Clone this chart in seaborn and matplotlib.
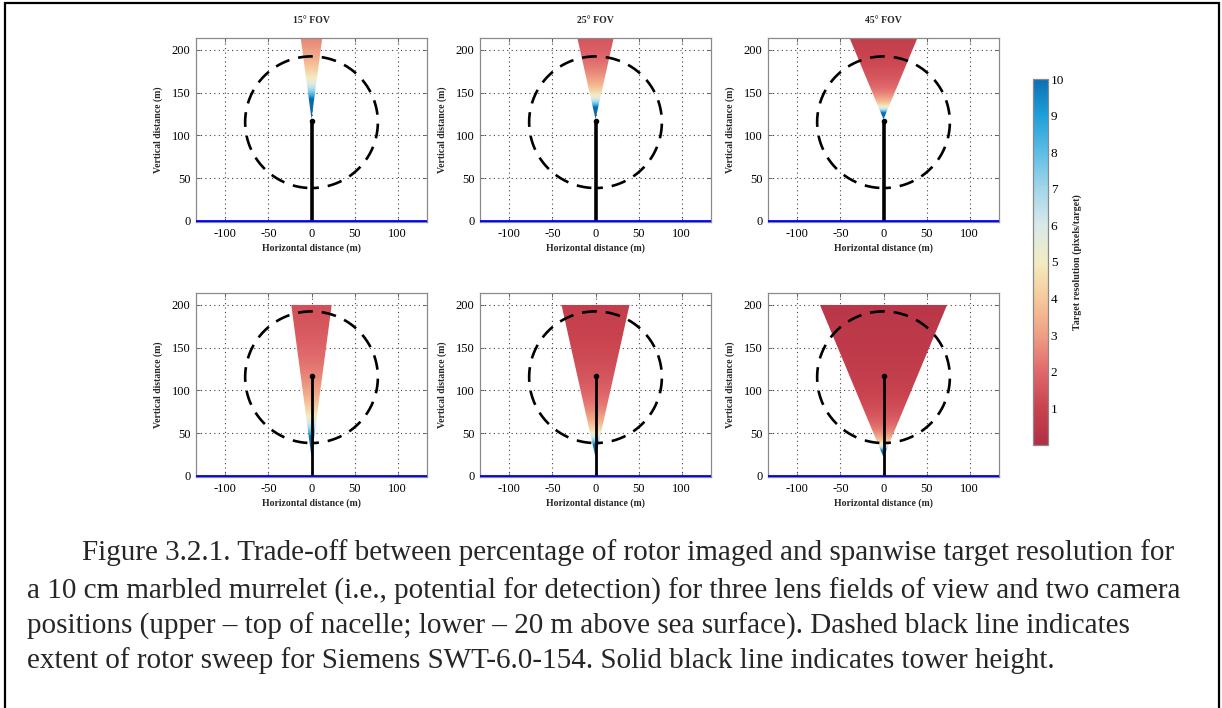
import numpy as np
import matplotlib
matplotlib.use("Agg")
import matplotlib.pyplot as plt
import seaborn as sns
from matplotlib.patches import Polygon, Rectangle

# ---------------- data ----------------
fov_deg = [15, 25, 45]                       # lens fields of view
fov_titles = ["15\u00b0 FOV", "25\u00b0 FOV", "45\u00b0 FOV"]
camera_height = [119, 22]                    # upper (top of nacelle), lower (~20 m above sea)
view_top = [219, 200]                        # upper edge of imaged area (m)
n_pixels = 640                               # sensor pixels across the field of view
target_size = 0.1                            # 10 cm marbled murrelet (m)
hub_height = 115.5
rotor_radius = 77.0
tower_height = 117.0
sea_level = 0.0
x_ticks = [-100, -50, 0, 50, 100]
y_ticks = [0, 50, 100, 150, 200]
cbar_ticks = [1, 2, 3, 4, 5, 6, 7, 8, 9, 10]
caption_lines = [
    "Figure 3.2.1. Trade-off between percentage of rotor imaged and spanwise target resolution for",
    "a 10 cm marbled murrelet (i.e., potential for detection) for three lens fields of view and two camera",
    "positions (upper \u2013 top of nacelle; lower \u2013 20 m above sea surface). Dashed black line indicates",
    "extent of rotor sweep for Siemens SWT-6.0-154. Solid black line indicates tower height.",
]

# ---------------- style ----------------
sns.set_theme(style="white")
plt.rcParams["font.family"] = ["Liberation Serif", "DejaVu Serif"]
plt.rcParams["axes.unicode_minus"] = False

cmap_stops = ["#b02f45", "#c9434f", "#e0686b", "#ef9f84", "#f6c99c", "#f3ecc2",
              "#d8e9ea", "#a4d6ea", "#5dbde5", "#1fa0da", "#0b70b4"]
cmap = sns.blend_palette(cmap_stops, as_cmap=True)
cmap.set_over("#0b6aad")

W, H = 1222, 708
fig = plt.figure(figsize=(W / 100, H / 100), dpi=100)
fig.patch.set_facecolor("white")

col_left = [196, 480, 768]
ax_w = 231
row_top = [38, 293]
ax_h = 184

xlim = (-134, 134)
ylim = (-1.2, 214)
xs = np.linspace(xlim[0], xlim[1], 700)
ys = np.linspace(0, ylim[1], 600)
X, Y = np.meshgrid(xs, ys)

for r in range(2):
    apex = camera_height[r]
    for c in range(3):
        ax = fig.add_axes([col_left[c] / W, 1 - (row_top[r] + ax_h) / H, ax_w / W, ax_h / H])
        half = np.deg2rad(fov_deg[c] / 2.0)
        D = Y - apex
        with np.errstate(divide="ignore", invalid="ignore"):
            res = n_pixels * target_size / (2.0 * D * np.tan(half))
        res = np.where(D > 0, res, 100.0)
        im = ax.imshow(res, extent=[xs[0], xs[-1], ys[0], ys[-1]], origin="lower",
                       cmap=cmap, vmin=0, vmax=10, aspect="auto",
                       interpolation="bilinear", zorder=2)
        top = view_top[r]
        hw = (top - apex) * np.tan(half)
        tri = Polygon([(0, apex), (-hw, top), (hw, top)], closed=True,
                      transform=ax.transData, facecolor="none", edgecolor="none")
        im.set_clip_path(tri)

        # rotor sweep
        th = np.linspace(-np.pi / 2, 3 * np.pi / 2, 400)
        ax.plot(rotor_radius * np.cos(th), hub_height + rotor_radius * np.sin(th),
                color="black", lw=1.9, linestyle=(2.8, (5.6, 3.4)), zorder=4)
        # tower
        ax.plot([0, 0], [sea_level, tower_height], color="black",
                lw=2.6 if r == 0 else 2.0, zorder=5, solid_capstyle="butt")
        ax.plot([0], [tower_height], marker="o", ms=3, color="black", zorder=5)
        # sea surface
        ax.axhline(sea_level, color="#0000ff", lw=2.0, zorder=6)

        ax.set_xlim(*xlim)
        ax.set_ylim(*ylim)
        ax.set_xticks(x_ticks)
        ax.set_yticks(y_ticks)
        ax.grid(True, color="#444444", linestyle=(0, (1, 3)), lw=0.8, zorder=1)
        ax.set_axisbelow(True)
        ax.tick_params(direction="in", length=3, width=0.6, colors="#555555",
                       labelcolor="black", labelsize=9, pad=4, top=True, right=True,
                       bottom=True, left=True)
        for s in ax.spines.values():
            s.set_color("#8a8a8a")
            s.set_linewidth(0.9)
        ax.set_xlabel("Horizontal distance (m)", fontsize=7, fontweight="bold", labelpad=3)
        ax.set_ylabel("Vertical distance (m)", fontsize=7, fontweight="bold", labelpad=6)
        if r == 0:
            ax.set_title(fov_titles[c], fontsize=7, fontweight="bold", pad=11)

# colorbar
cax = fig.add_axes([1033 / W, 1 - 445 / H, 15 / W, 366 / H])
sm = plt.cm.ScalarMappable(cmap=cmap, norm=plt.Normalize(0, 10))
cb = fig.colorbar(sm, cax=cax, ticks=cbar_ticks)
cb.outline.set_edgecolor("#8a8a8a")
cb.outline.set_linewidth(0.9)
cax.tick_params(direction="in", length=3, width=0.6, colors="#555555",
                labelcolor="black", labelsize=9.5, pad=2)
cb.set_label("Target resolution (pixels/target)", fontsize=7.2, fontweight="bold", labelpad=6)

# caption
cap_x = [82, 27, 27, 27]
cap_y = [553, 591, 626, 661]
for t, x, y in zip(caption_lines, cap_x, cap_y):
    fig.text(x / W, 1 - y / H, t, fontsize=21, va="center", ha="left")

# page frame
fig.add_artist(Rectangle((5 / W, -0.2), 1214 / W, 1.2 - 3 / H, transform=fig.transFigure,
                         fill=False, edgecolor="black", lw=1.6))

fig.savefig("out.png", dpi=100, facecolor="white")
